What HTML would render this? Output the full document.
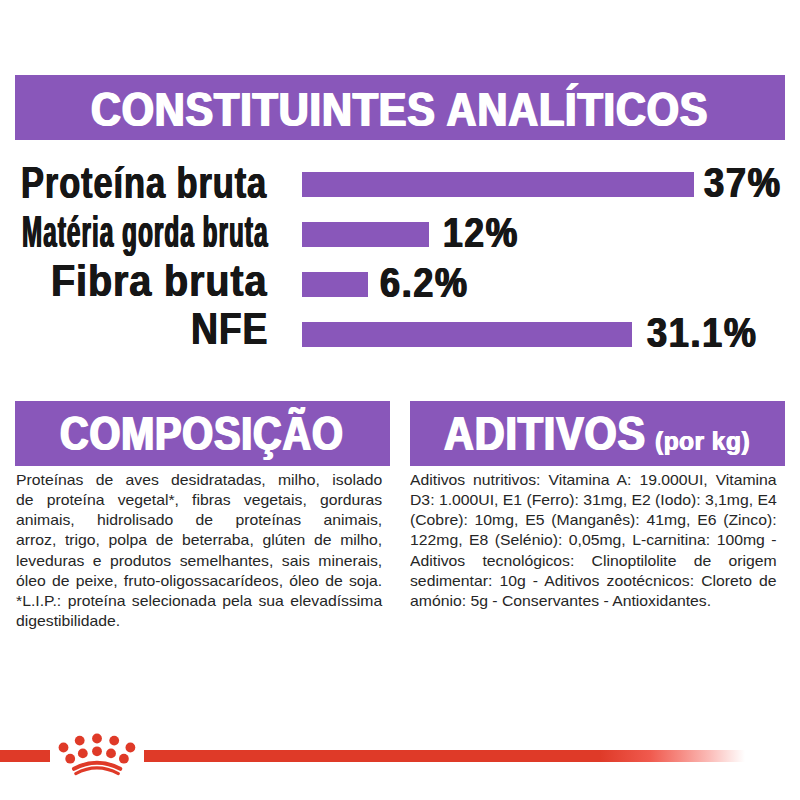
<!DOCTYPE html>
<html><head><meta charset="utf-8">
<style>
html,body{margin:0;padding:0;background:#fff;}
body{width:800px;height:800px;position:relative;overflow:hidden;font-family:"Liberation Sans",sans-serif;}
.abs{position:absolute;}
.bar{position:absolute;background:#8957ba;}
.t{position:absolute;white-space:nowrap;transform-origin:0 0;line-height:1;}
.lbl{font-weight:bold;color:#161616;}
.hd{font-weight:bold;color:#fff;}
.body{position:absolute;font-size:14.5px;line-height:20.1px;color:#262626;transform-origin:0 0;}
.ln{height:20.1px;white-space:nowrap;text-align:justify;text-align-last:justify;}
.ln.last{text-align-last:left;}
</style></head><body>
<div class="bar" style="left:15px;top:75px;width:770px;height:65px;"></div>
<div class="bar" style="left:302px;top:171.5px;width:392px;height:25.5px;"></div>
<div class="bar" style="left:302px;top:221.5px;width:126.5px;height:25.5px;"></div>
<div class="bar" style="left:302px;top:271.5px;width:65.5px;height:25.5px;"></div>
<div class="bar" style="left:302px;top:321.5px;width:329.5px;height:25.5px;"></div>
<div class="bar" style="left:15px;top:401px;width:375px;height:65px;"></div>
<div class="bar" style="left:410px;top:401px;width:375px;height:65px;"></div>
<div id="h1" class="t hd" style="left:91.00px;top:85.15px;font-size:48.70px;letter-spacing:1.00px;transform:scaleX(0.8509);text-shadow:1.18px 0 0 currentColor,-1.18px 0 0 currentColor;">CONSTITUINTES ANALÍTICOS</div>
<div id="l1" class="t lbl" style="left:20.50px;top:160.20px;font-size:45.00px;letter-spacing:1.20px;transform:scaleX(0.7648);text-shadow:0.65px 0 0 currentColor,-0.65px 0 0 currentColor;">Proteína bruta</div>
<div id="l2" class="t lbl" style="left:21.60px;top:208.70px;font-size:45.00px;letter-spacing:2.00px;transform:scaleX(0.5383);text-shadow:1.11px 0 0 currentColor,-1.11px 0 0 currentColor;">Matéria gorda bruta</div>
<div id="l3" class="t lbl" style="left:50.60px;top:258.00px;font-size:45.00px;letter-spacing:1.00px;transform:scaleX(0.8795);text-shadow:0.51px 0 0 currentColor,-0.51px 0 0 currentColor;">Fibra bruta</div>
<div id="l4" class="t lbl" style="left:191.00px;top:306.40px;font-size:45.00px;letter-spacing:1.00px;transform:scaleX(0.8308);text-shadow:0.54px 0 0 currentColor,-0.54px 0 0 currentColor;">NFE</div>
<div id="v1" class="t lbl" style="left:704.25px;top:161.75px;font-size:42.50px;letter-spacing:2.00px;transform:scaleX(0.8530);text-shadow:0.82px 0 0 currentColor,-0.82px 0 0 currentColor;">37%</div>
<div id="v2" class="t lbl" style="left:442.50px;top:211.75px;font-size:42.50px;letter-spacing:2.00px;transform:scaleX(0.8327);text-shadow:0.84px 0 0 currentColor,-0.84px 0 0 currentColor;">12%</div>
<div id="v3" class="t lbl" style="left:379.75px;top:261.75px;font-size:42.50px;letter-spacing:2.00px;transform:scaleX(0.8455);text-shadow:0.83px 0 0 currentColor,-0.83px 0 0 currentColor;">6.2%</div>
<div id="v4" class="t lbl" style="left:647.40px;top:311.85px;font-size:42.50px;letter-spacing:2.00px;transform:scaleX(0.8477);text-shadow:0.83px 0 0 currentColor,-0.83px 0 0 currentColor;">31.1%</div>
<div id="h2" class="t hd" style="left:60.00px;top:409.15px;font-size:48.70px;letter-spacing:1.00px;transform:scaleX(0.8147);text-shadow:1.23px 0 0 currentColor,-1.23px 0 0 currentColor;">COMPOSIÇÃO</div>
<div id="h3" class="t hd" style="left:444.00px;top:409.15px;font-size:48.70px;letter-spacing:1.00px;transform:scaleX(0.8491);text-shadow:1.18px 0 0 currentColor,-1.18px 0 0 currentColor;">ADITIVOS</div>
<div id="h4" class="t hd" style="left:654.90px;top:427.60px;font-size:26.00px;letter-spacing:0.50px;transform:scaleX(0.9436);text-shadow:0.53px 0 0 currentColor,-0.53px 0 0 currentColor;">(por kg)</div>
<div id="b1" class="body" style="left:16px;top:470.2px;width:337.2px;transform:scaleX(1.086);">
<div class="ln">Proteínas de aves desidratadas, milho, isolado</div>
<div class="ln">de proteína vegetal*, fibras vegetais, gorduras</div>
<div class="ln">animais, hidrolisado de proteínas animais,</div>
<div class="ln">arroz, trigo, polpa de beterraba, glúten de milho,</div>
<div class="ln">leveduras e produtos semelhantes, sais minerais,</div>
<div class="ln">óleo de peixe, fruto-oligossacarídeos, óleo de soja.</div>
<div class="ln">*L.I.P.: proteína selecionada pela sua elevadíssima</div>
<div class="ln last">digestibilidade.</div>
</div>
<div id="b2" class="body" style="left:410.3px;top:470.2px;width:337.6px;transform:scaleX(1.086);">
<div class="ln">Aditivos nutritivos: Vitamina A: 19.000UI, Vitamina</div>
<div class="ln">D3: 1.000UI, E1 (Ferro): 31mg, E2 (Iodo): 3,1mg, E4</div>
<div class="ln">(Cobre): 10mg, E5 (Manganês): 41mg, E6 (Zinco):</div>
<div class="ln">122mg, E8 (Selénio): 0,05mg, L-carnitina: 100mg -</div>
<div class="ln">Aditivos tecnológicos: Clinoptilolite de origem</div>
<div class="ln">sedimentar: 10g - Aditivos zootécnicos: Cloreto de</div>
<div class="ln last">amónio: 5g - Conservantes - Antioxidantes.</div>
</div>
<div class="abs" style="left:0;top:750.3px;width:49.5px;height:12.2px;background:#df3a28;"></div>
<div class="abs" style="left:144.2px;top:750.3px;width:601px;height:12.2px;background:linear-gradient(to right,#df3a28 0%,#df3a28 75.8%,#f05a4e 84.2%,#f68a82 89.2%,#fbbcb8 94.1%,#fde3e1 97.5%,#ffffff 100%);"></div>
<svg class="abs" style="left:0;top:0" width="800" height="800">
<g fill="#df3a28">
<circle cx="63.5" cy="747.5" r="4.9"/><circle cx="79.7" cy="740.6" r="4.9"/><circle cx="97" cy="738.5" r="4.9"/><circle cx="114.2" cy="740.6" r="4.9"/><circle cx="130.4" cy="747.5" r="4.9"/>
<circle cx="70.2" cy="758.7" r="4.9"/><circle cx="82.8" cy="753.4" r="4.9"/><circle cx="97" cy="751.3" r="4.9"/><circle cx="111" cy="753.4" r="4.9"/><circle cx="123.9" cy="758.7" r="4.9"/>
</g>
<g fill="none" stroke="#df3a28" stroke-linecap="round">
<path d="M74 768.8 Q96.9 756.6 120.2 768.8" stroke-width="4.1"/>
<path d="M75.8 773.6 Q96.9 762.2 118.3 773.6" stroke-width="3.1"/>
</g>
</svg>
</body></html>
